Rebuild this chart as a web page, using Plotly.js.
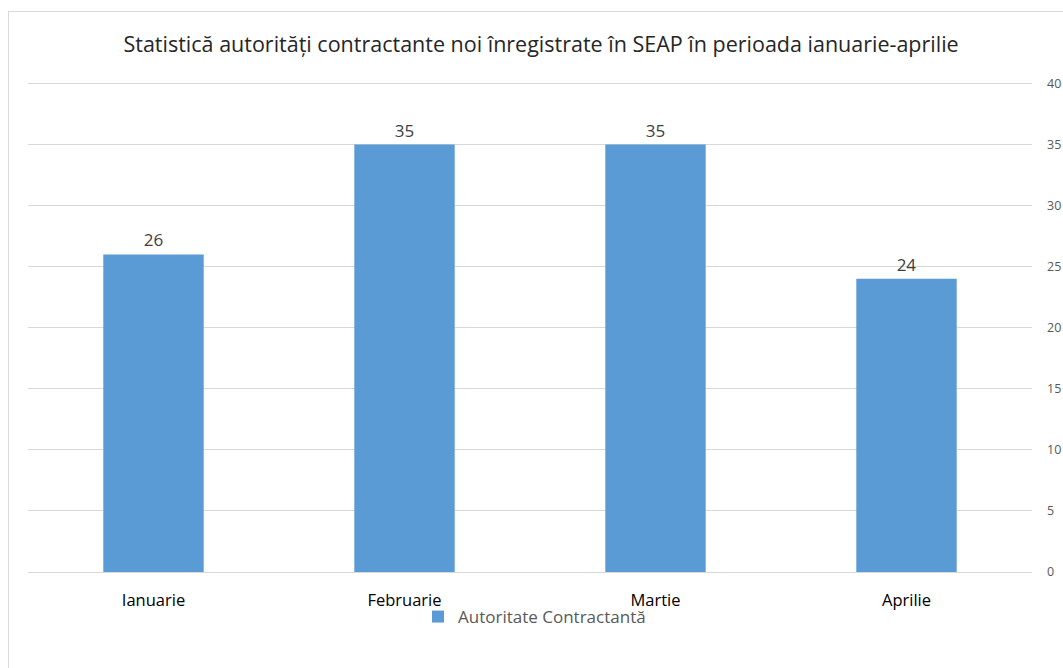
<!DOCTYPE html>
<html>
<head>
<meta charset="utf-8">
<script src="https://cdn.plot.ly/plotly-3.0.1.min.js"></script>
<style>
html,body{margin:0;padding:0;background:#fff;}
#wrap{position:relative;width:1063px;height:668px;}
#chart{width:1063px;height:668px;}
#frame{position:absolute;left:8px;top:11px;width:1070px;height:680px;border:1px solid #d9d9d9;pointer-events:none;}
</style>
</head>
<body>
<div id="wrap"><div id="chart"></div><div id="frame"></div></div>
<script>
const categories = ["Ianuarie", "Februarie", "Martie", "Aprilie"];
const values = [26, 35, 35, 24];
const seriesName = "Autoritate Contractantă";
const yTicks = [0, 5, 10, 15, 20, 25, 30, 35, 40];
const titleText = "Statistică autorități contractante noi înregistrate în SEAP în perioada ianuarie-aprilie";

const trace = {
  type: "bar",
  x: categories,
  y: values,
  name: seriesName,
  marker: {color: "#5B9BD5"},
  text: values.map(String),
  textposition: "outside",
  textfont: {family: "Open Sans, sans-serif", size: 17, color: "#404040"},
  cliponaxis: false,
  showlegend: true
};

const layout = {
  width: 1063, height: 668,
  margin: {l: 28, r: 31, t: 80.5, b: 96},
  paper_bgcolor: "#fff", plot_bgcolor: "#fff",
  font: {family: "Open Sans, sans-serif", color: "#595959"},
  title: {text: titleText, x: 0.509, xanchor: "center", y: 0.934, yanchor: "middle",
          font: {family: "Open Sans, sans-serif", size: 21.5, color: "#262626"}},
  bargap: 0.6,
  xaxis: {type: "category", showgrid: false, showline: true, linecolor: "#d9d9d9", linewidth: 1,
          ticks: "", tickfont: {size: 16.5, color: "#000"}, ticklabelstandoff: 13, fixedrange: true},
  yaxis: {side: "right", range: [0, 40.2], tickvals: yTicks, showgrid: true, gridcolor: "#d9d9d9",
          zeroline: false, showline: false, ticks: "", ticklabelstandoff: 14,
          tickfont: {size: 12.5, color: "#595959"}},
  showlegend: true,
  legend: {orientation: "h", x: 0.5045, xanchor: "center", y: -0.055, yanchor: "top",
           bgcolor: "rgba(0,0,0,0)", font: {size: 17, color: "#595959"}, itemwidth: 30}
};

Plotly.newPlot("chart", [trace], layout, {displayModeBar: false, staticPlot: true});
</script>
</body>
</html>
